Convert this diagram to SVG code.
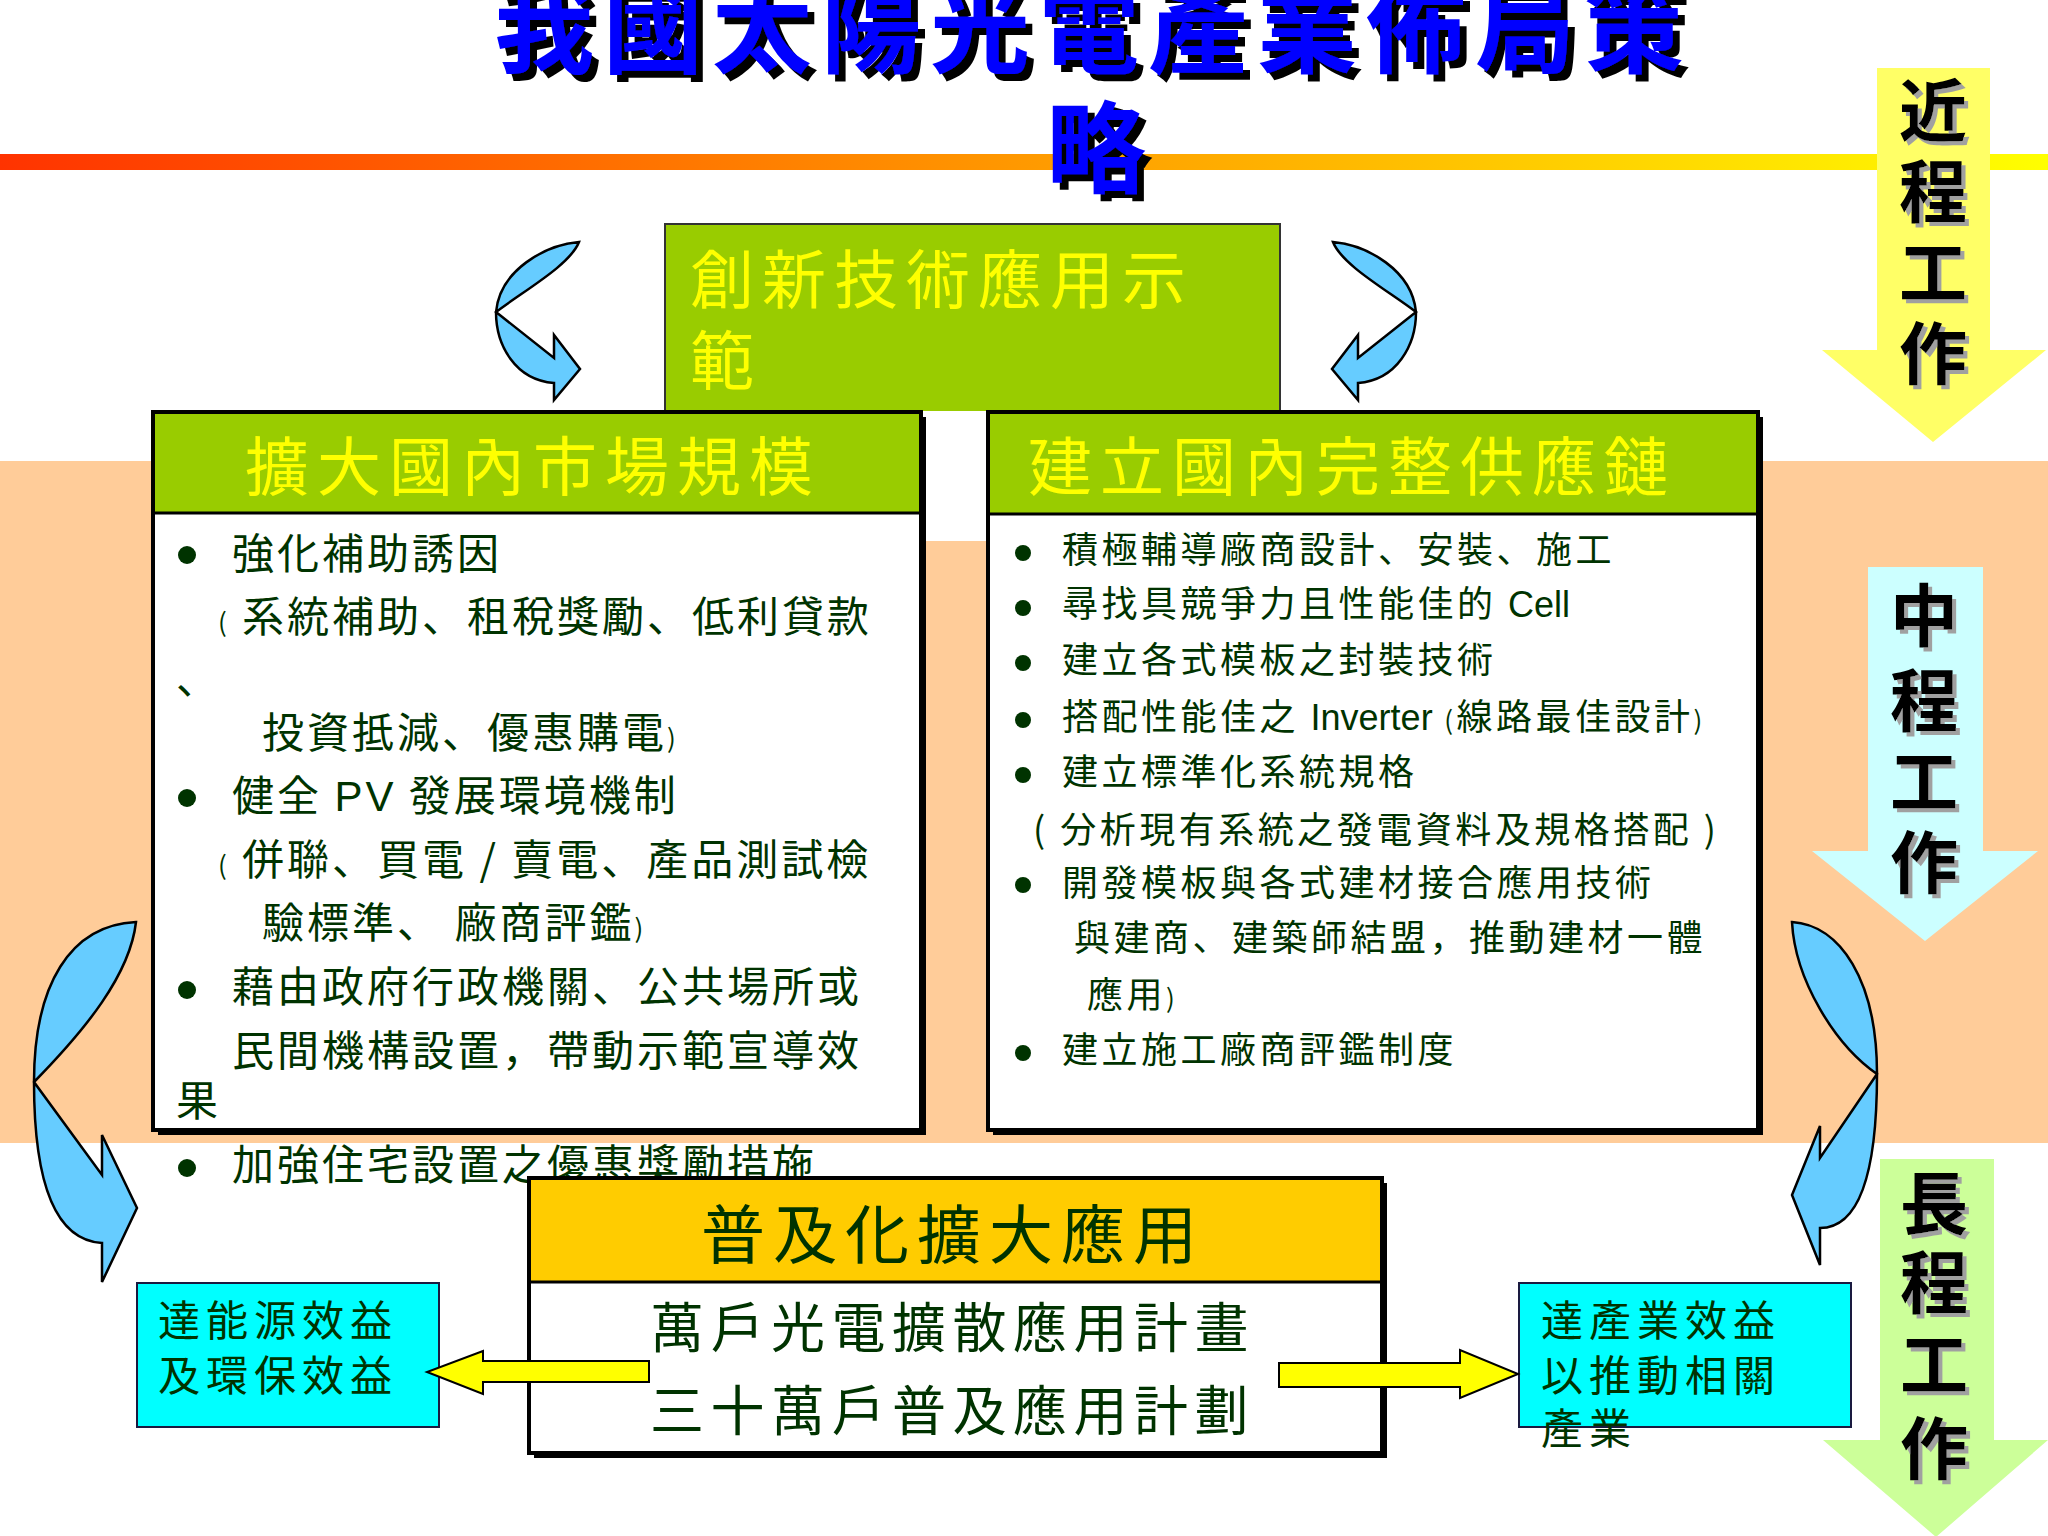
<svg xmlns="http://www.w3.org/2000/svg" width="2048" height="1536" viewBox="0 0 2048 1536">
<defs>
<linearGradient id="bar" x1="0" y1="0" x2="1" y2="0">
<stop offset="0" stop-color="#FF3300"/><stop offset="0.5" stop-color="#FF9900"/><stop offset="1" stop-color="#FFFF00"/>
</linearGradient>
<filter id="shTitle" x="-10%" y="-30%" width="130%" height="160%">
<feFlood flood-color="#000000"/>
<feComposite in2="SourceAlpha" operator="in"/>
<feOffset dx="7" dy="7" result="sh"/>
<feMerge><feMergeNode in="sh"/><feMergeNode in="SourceGraphic"/></feMerge>
</filter>
<filter id="shGray" x="-20%" y="-20%" width="150%" height="150%">
<feFlood flood-color="#A0A0A0"/>
<feComposite in2="SourceAlpha" operator="in"/>
<feOffset dx="4" dy="4" result="sh"/>
<feMerge><feMergeNode in="sh"/><feMergeNode in="SourceGraphic"/></feMerge>
</filter>
<style>
.cjk{font-family:"Noto Sans CJK JP","Noto Sans CJK TC","Liberation Sans",sans-serif}
.title{font-size:100px;font-weight:bold;letter-spacing:9px;fill:#0000FF}
.vlab{font-size:68px;font-weight:bold;text-anchor:middle;fill:#000}
.hdr{font-size:64px;fill:#FFFF00;letter-spacing:8px}
.lb{font-size:42px;fill:#003300;letter-spacing:3px}
.rb{font-size:36px;fill:#003300;letter-spacing:3.5px}
.bb{font-size:54px;fill:#003300;letter-spacing:6.5px}
.cb{font-size:42px;fill:#003300;letter-spacing:6px}
.curv{fill:#66CCFF;stroke:#000;stroke-width:2.5;stroke-linejoin:miter}
.yarr{fill:#FFFF00;stroke:#000;stroke-width:2}
.lat{font-family:"Liberation Sans",Arial,sans-serif}
.par{font-size:26px}
.frame{fill:none;stroke:#000;stroke-width:4}
.dot{fill:#003300}
</style>
</defs>
<rect width="2048" height="1536" fill="#FFFFFF"/>
<rect id="band" x="0" y="461" width="2048" height="682" fill="#FFCC99"/>
<rect id="gradline" x="0" y="154" width="2048" height="16" fill="url(#bar)"/>

<g id="title" class="cjk title" filter="url(#shTitle)">
<text x="494" y="65">我國太陽光電產業佈局策</text>
<text x="1046" y="185">略</text>
</g>

<g id="near-term">
<polygon points="1877,68 1990,68 1990,350 2046,350 1933,442 1822,350 1877,350" fill="#FFFF66"/>
<g class="cjk vlab" filter="url(#shGray)">
<text x="1933" y="136">近</text>
<text x="1933" y="217">程</text>
<text x="1933" y="298">工</text>
<text x="1933" y="379">作</text>
</g>
</g>

<g id="mid-term">
<polygon points="1868,567 1983,567 1983,851 2038,851 1925,941 1812,851 1868,851" fill="#CCFFFF"/>
<g class="cjk vlab" filter="url(#shGray)">
<text x="1924" y="641">中</text>
<text x="1924" y="726">程</text>
<text x="1924" y="807">工</text>
<text x="1924" y="888">作</text>
</g>
</g>

<g id="long-term">
<polygon points="1880,1159 1994,1159 1994,1440 2048,1440 1936,1537 1823,1440 1880,1440" fill="#CCFF99"/>
<g class="cjk vlab" filter="url(#shGray)">
<text x="1934" y="1229">長</text>
<text x="1934" y="1308">程</text>
<text x="1934" y="1390">工</text>
<text x="1934" y="1474">作</text>
</g>
</g>

<g id="demo-box">
<rect x="665" y="224" width="615" height="188" fill="#99CC00" stroke="#333" stroke-width="2"/>
<text class="cjk hdr" x="690" y="303" letter-spacing="9">創新技術應用示</text>
<text class="cjk hdr" x="690" y="384">範</text>
</g>

<rect id="gap" x="921" y="411" width="67" height="130" fill="#FFFFFF"/>

<g id="market-box">
<rect x="158" y="417" width="768" height="718" fill="#000"/>
<rect x="153" y="412" width="768" height="718" fill="#FFFFFF"/>
<rect x="153" y="412" width="768" height="101" fill="#99CC00"/>
<line x1="153" y1="513" x2="921" y2="513" stroke="#000" stroke-width="3"/>
<rect class="frame" x="153" y="412" width="768" height="718"/>
<text class="cjk hdr" x="245" y="490">擴大國內市場規模</text>
<g class="cjk lb">
<circle class="dot" cx="187" cy="555" r="9"/>
<text x="232" y="569">強化補助誘因</text>
<text x="218" y="632"><tspan class="par">(</tspan><tspan x="242">系統補助、租稅獎勵、低利貸款</tspan></text>
<text x="176" y="694">、</text>
<text x="262" y="748">投資抵減、優惠購電<tspan class="par">)</tspan></text>
<circle class="dot" cx="187" cy="798" r="9"/>
<text x="232" y="811">健全 <tspan class="lat">PV</tspan> 發展環境機制</text>
<text x="218" y="875"><tspan class="par">(</tspan><tspan x="242">併聯、買電 / 賣電、產品測試檢</tspan></text>
<text x="262" y="938">驗標準、 廠商評鑑<tspan class="par">)</tspan></text>
<circle class="dot" cx="187" cy="990" r="9"/>
<text x="232" y="1002">藉由政府行政機關、公共場所或</text>
<text x="232" y="1066">民間機構設置，帶動示範宣導效</text>
<text x="176" y="1116">果</text>
</g>
</g>

<g id="outside-bullet" class="cjk lb">
<circle class="dot" cx="187" cy="1168" r="9"/>
<text x="232" y="1180">加強住宅設置之優惠獎勵措施</text>
</g>

<g id="supply-box">
<rect x="993" y="417" width="770" height="718" fill="#000"/>
<rect x="988" y="412" width="770" height="718" fill="#FFFFFF"/>
<rect x="988" y="412" width="770" height="102" fill="#99CC00"/>
<line x1="988" y1="514" x2="1758" y2="514" stroke="#000" stroke-width="3"/>
<rect class="frame" x="988" y="412" width="770" height="718"/>
<text class="cjk hdr" x="1028" y="490" letter-spacing="9">建立國內完整供應鏈</text>
<g class="cjk rb">
<circle class="dot" cx="1023" cy="553" r="8"/>
<text x="1062" y="563">積極輔導廠商設計、安裝、施工</text>
<circle class="dot" cx="1023" cy="608" r="8"/>
<text x="1062" y="617">尋找具競爭力且性能佳的 <tspan class="lat" letter-spacing="0">Cell</tspan></text>
<circle class="dot" cx="1023" cy="663" r="8"/>
<text x="1062" y="673">建立各式模板之封裝技術</text>
<circle class="dot" cx="1023" cy="720" r="8"/>
<text x="1062" y="730">搭配性能佳之 <tspan class="lat" letter-spacing="0">Inverter</tspan> <tspan class="par">(</tspan>線路最佳設計<tspan class="par">)</tspan></text>
<circle class="dot" cx="1023" cy="775" r="8"/>
<text x="1062" y="785">建立標準化系統規格</text>
<text x="1033" y="843">( 分析現有系統之發電資料及規格搭配 )</text>
<circle class="dot" cx="1023" cy="885" r="8"/>
<text x="1062" y="896">開發模板與各式建材接合應用技術</text>
<text x="1074" y="951">與建商、建築師結盟，推動建材一體</text>
<text x="1087" y="1008">應用<tspan class="par">)</tspan></text>
<circle class="dot" cx="1023" cy="1053" r="8"/>
<text x="1062" y="1063">建立施工廠商評鑑制度</text>
</g>
</g>

<g id="popularize-box">
<rect x="534" y="1183" width="853" height="275" fill="#000"/>
<rect x="529" y="1178" width="853" height="275" fill="#FFFFFF"/>
<rect x="529" y="1178" width="853" height="104" fill="#FFCC00"/>
<line x1="529" y1="1282" x2="1382" y2="1282" stroke="#000" stroke-width="3"/>
<rect class="frame" x="529" y="1178" width="853" height="275"/>
<text class="cjk hdr" x="701" y="1258" style="fill:#003300" letter-spacing="7">普及化擴大應用</text>
<text class="cjk bb" x="650" y="1348">萬戶光電擴散應用計畫</text>
<text class="cjk bb" x="650" y="1431">三十萬戶普及應用計劃</text>
</g>

<g id="energy-box">
<rect x="137" y="1283" width="302" height="144" fill="#00FFFF" stroke="#1A1A40" stroke-width="2"/>
<text class="cjk cb" x="158" y="1336">達能源效益</text>
<text class="cjk cb" x="158" y="1391">及環保效益</text>
</g>

<g id="industry-box">
<rect x="1519" y="1283" width="332" height="144" fill="#00FFFF" stroke="#1A1A40" stroke-width="2"/>
<text class="cjk cb" x="1541" y="1336">達產業效益</text>
<text class="cjk cb" x="1541" y="1391">以推動相關</text>
<text class="cjk cb" x="1541" y="1444">產業</text>
</g>

<g id="connectors">
<path class="curv" d="M579 242 C545 245 500 270 496 312 C496 345 515 380 554 383 L554 400 L580 369 L554 335 L554 358 L496 312 C525 290 570 265 579 242 Z"/>
<path class="curv" transform="translate(1912,0) scale(-1,1)" d="M579 242 C545 245 500 270 496 312 C496 345 515 380 554 383 L554 400 L580 369 L554 335 L554 358 L496 312 C525 290 570 265 579 242 Z"/>
<path class="curv" d="M136 922 C70 925 34 985 34 1082 C34 1170 50 1240 102 1243 L102 1282 L137 1208 L102 1135 L102 1175 L34 1082 C85 1030 130 975 136 922 Z"/>
<path class="curv" d="M1792 922 C1840 925 1877 980 1877 1074 C1877 1170 1860 1228 1820 1228 L1820 1265 L1792 1195 L1820 1126 L1820 1158 L1877 1074 C1835 1045 1795 980 1792 922 Z"/>
<polygon class="yarr" points="649,1361 483,1361 483,1351 427,1372 483,1394 483,1382 649,1382"/>
<polygon class="yarr" points="1279,1363 1460,1363 1460,1350 1518,1374 1460,1398 1460,1387 1279,1387"/>
</g>
</svg>
